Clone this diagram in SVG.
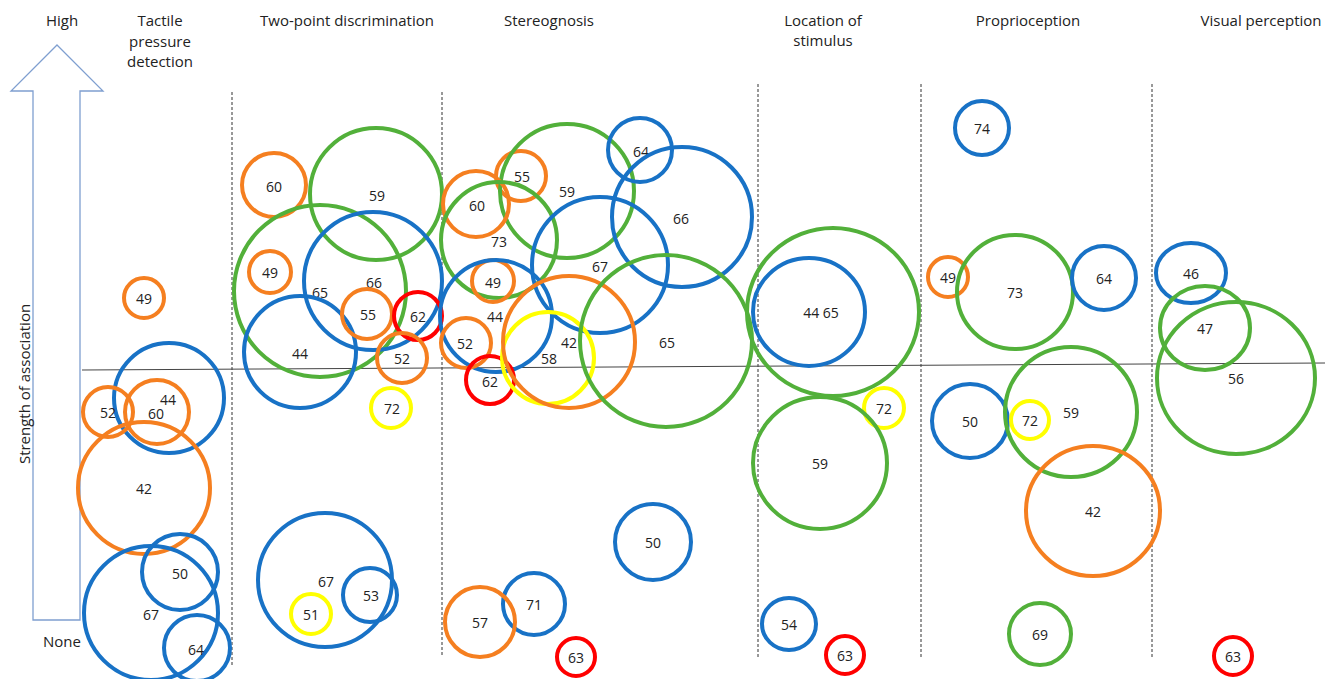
<svg xmlns="http://www.w3.org/2000/svg" width="1325" height="679" viewBox="0 0 1325 679">
<style>
text{font-family:"Open Sans","Liberation Sans",sans-serif;fill:#222}
.t{font-size:15px;text-anchor:middle}
.l{font-size:14px;text-anchor:middle;dominant-baseline:central}
.c{fill:none;stroke-width:4}
.o{stroke:#f57f20}.b{stroke:#1872c6}.g{stroke:#52b03a}.r{stroke:#ff0000}.y{stroke:#ffff00}
.d{stroke:#333;stroke-width:1;stroke-dasharray:3,2}
</style>
<rect width="1325" height="679" fill="#fff"/>
<g id="axis">
<path d="M57,45 L103,91 L80,91 L80,620 L33,620 L33,91 L11,91 Z" fill="#fff" stroke="#7f9fd0" stroke-width="1.3"/>
<text class="t" x="62" y="26">High</text>
<text class="t" x="62" y="647">None</text>
<text class="t" transform="translate(30,384) rotate(-90)">Strength of association</text>
</g>
<g id="headers">
<text class="t" x="160" y="26">Tactile</text>
<text class="t" x="160" y="47">pressure</text>
<text class="t" x="160" y="67">detection</text>
<text class="t" x="347" y="26">Two-point discrimination</text>
<text class="t" x="549" y="26">Stereognosis</text>
<text class="t" x="823" y="26">Location of</text>
<text class="t" x="823" y="46">stimulus</text>
<text class="t" x="1028" y="26">Proprioception</text>
<text class="t" x="1261" y="26">Visual perception</text>
</g>
<g id="connectors">
<line class="d" x1="232" y1="92" x2="232" y2="665"/>
<line class="d" x1="442" y1="92" x2="442" y2="657"/>
<line class="d" x1="758" y1="84" x2="758" y2="657"/>
<line class="d" x1="921" y1="84" x2="921" y2="657"/>
<line class="d" x1="1152" y1="84" x2="1152" y2="657"/>
<line x1="82" y1="370" x2="1325" y2="363" stroke="#444" stroke-width="1"/>
</g>
<g id="tactile">
<g id="t49"><circle class="c o" cx="144" cy="298" r="20"/><text class="l" x="144" y="298">49</text></g>
<g id="t44"><circle class="c b" cx="169" cy="398" r="55"/><text class="l" x="168" y="399">44</text></g>
<g id="t52"><circle class="c o" cx="108" cy="412" r="25"/><text class="l" x="108" y="412">52</text></g>
<g id="t60"><circle class="c o" cx="157" cy="412" r="32"/><text class="l" x="156" y="413">60</text></g>
<g id="t42"><circle class="c o" cx="144" cy="488" r="66"/><text class="l" x="144" y="488">42</text></g>
<g id="t50"><circle class="c b" cx="180" cy="572" r="38"/><text class="l" x="180" y="573">50</text></g>
<g id="t67"><circle class="c b" cx="151" cy="613" r="67"/><text class="l" x="151" y="614">67</text></g>
<g id="t64"><circle class="c b" cx="197" cy="648" r="33"/><text class="l" x="196" y="649">64</text></g>
</g>
<g id="twopoint">
<g id="p60"><circle class="c o" cx="274" cy="185" r="32"/><text class="l" x="274" y="186">60</text></g>
<g id="p59"><circle class="c g" cx="376" cy="194" r="66"/><text class="l" x="377" y="195">59</text></g>
<g id="p49"><circle class="c o" cx="270" cy="272" r="21"/><text class="l" x="270" y="272">49</text></g>
<g id="p65"><circle class="c g" cx="320" cy="291" r="86"/><text class="l" x="320" y="292">65</text></g>
<g id="p66"><circle class="c b" cx="373" cy="281" r="69"/><text class="l" x="374" y="282">66</text></g>
<g id="p44"><circle class="c b" cx="300" cy="352" r="56"/><text class="l" x="300" y="353">44</text></g>
<g id="p55"><circle class="c o" cx="367" cy="314" r="25"/><text class="l" x="368" y="314">55</text></g>
<g id="p62"><circle class="c r" cx="418" cy="316" r="24"/><text class="l" x="418" y="316">62</text></g>
<g id="p52"><circle class="c o" cx="402" cy="358" r="25"/><text class="l" x="402" y="358">52</text></g>
<g id="p72"><circle class="c y" cx="391" cy="408" r="20"/><text class="l" x="392" y="408">72</text></g>
<g id="p67"><circle class="c b" cx="325" cy="580" r="67"/><text class="l" x="326" y="581">67</text></g>
<g id="p53"><circle class="c b" cx="370" cy="595" r="27"/><text class="l" x="371" y="595">53</text></g>
<g id="p51"><circle class="c y" cx="311" cy="614" r="20"/><text class="l" x="311" y="614">51</text></g>
</g>
<g id="stereognosis">
<g id="s55"><circle class="c o" cx="521" cy="176" r="25"/><text class="l" x="522" y="176">55</text></g>
<g id="s59"><circle class="c g" cx="567" cy="191" r="67"/><text class="l" x="567" y="191">59</text></g>
<g id="s64"><circle class="c b" cx="640" cy="150" r="32"/><text class="l" x="641" y="151">64</text></g>
<g id="s60"><circle class="c o" cx="476" cy="204" r="33"/><text class="l" x="477" y="205">60</text></g>
<g id="s73"><circle class="c g" cx="499" cy="240" r="58"/><text class="l" x="499" y="241">73</text></g>
<g id="s66"><circle class="c b" cx="682" cy="217" r="70"/><text class="l" x="681" y="218">66</text></g>
<g id="s67"><circle class="c b" cx="600" cy="265" r="68"/><text class="l" x="600" y="266">67</text></g>
<g id="s49"><circle class="c o" cx="493" cy="281" r="21"/><text class="l" x="493" y="282">49</text></g>
<g id="s44"><circle class="c b" cx="496" cy="316" r="56"/><text class="l" x="495" y="316">44</text></g>
<g id="s52"><circle class="c o" cx="466" cy="343" r="25"/><text class="l" x="465" y="343">52</text></g>
<g id="s62"><circle class="c r" cx="490" cy="380" r="24"/><text class="l" x="490" y="381">62</text></g>
<g id="s58"><circle class="c y" cx="548" cy="358" r="46"/><text class="l" x="549" y="358">58</text></g>
<g id="s42"><circle class="c o" cx="569" cy="342" r="66"/><text class="l" x="569" y="342">42</text></g>
<g id="s65"><circle class="c g" cx="666" cy="341" r="86"/><text class="l" x="667" y="342">65</text></g>
<g id="s50"><circle class="c b" cx="653" cy="542" r="38"/><text class="l" x="653" y="542">50</text></g>
<g id="s71"><circle class="c b" cx="534" cy="604" r="31"/><text class="l" x="534" y="604">71</text></g>
<g id="s57"><circle class="c o" cx="480" cy="622" r="35"/><text class="l" x="480" y="622">57</text></g>
<g id="s63"><circle class="c r" cx="576" cy="657" r="19"/><text class="l" x="576" y="657">63</text></g>
</g>
<g id="location">
<g id="l65"><ellipse class="c g" cx="833" cy="312" rx="86" ry="84"/></g>
<g id="l44"><ellipse class="c b" cx="809" cy="312" rx="56" ry="54"/><text class="l" x="821" y="312">44  65</text></g>
<g id="l72"><circle class="c y" cx="884" cy="408" r="20"/><text class="l" x="884" y="408">72</text></g>
<g id="l59"><ellipse class="c g" cx="820" cy="463" rx="67" ry="66"/><text class="l" x="820" y="463">59</text></g>
<g id="l54"><ellipse class="c b" cx="789" cy="624" rx="27" ry="26"/><text class="l" x="789" y="624">54</text></g>
<g id="l63"><circle class="c r" cx="845" cy="655" r="19"/><text class="l" x="845" y="655">63</text></g>
</g>
<g id="proprioception">
<g id="r74"><circle class="c b" cx="982" cy="128" r="27"/><text class="l" x="982" y="128">74</text></g>
<g id="r49"><circle class="c o" cx="948" cy="277" r="20"/><text class="l" x="948" y="277">49</text></g>
<g id="r73"><ellipse class="c g" cx="1015" cy="292" rx="58" ry="57"/><text class="l" x="1015" y="292">73</text></g>
<g id="r64"><circle class="c b" cx="1104" cy="278" r="32"/><text class="l" x="1104" y="278">64</text></g>
<g id="r50"><ellipse class="c b" cx="970" cy="421" rx="38" ry="37"/><text class="l" x="970" y="421">50</text></g>
<g id="r72"><circle class="c y" cx="1030" cy="420" r="19"/><text class="l" x="1030" y="420">72</text></g>
<g id="r59"><ellipse class="c g" cx="1071" cy="412" rx="66" ry="65"/><text class="l" x="1071" y="412">59</text></g>
<g id="r42"><ellipse class="c o" cx="1093" cy="511" rx="67" ry="65"/><text class="l" x="1093" y="511">42</text></g>
<g id="r69"><circle class="c g" cx="1040" cy="634" r="31"/><text class="l" x="1040" y="634">69</text></g>
</g>
<g id="visual">
<g id="v46"><ellipse class="c b" cx="1191" cy="273" rx="35" ry="30"/><text class="l" x="1191" y="273">46</text></g>
<g id="v47"><ellipse class="c g" cx="1205" cy="328" rx="45" ry="42"/><text class="l" x="1205" y="328">47</text></g>
<g id="v56"><ellipse class="c g" cx="1236" cy="378" rx="79" ry="76"/><text class="l" x="1236" y="378">56</text></g>
<g id="v63"><circle class="c r" cx="1233" cy="656" r="19"/><text class="l" x="1233" y="656">63</text></g>
</g>
</svg>
